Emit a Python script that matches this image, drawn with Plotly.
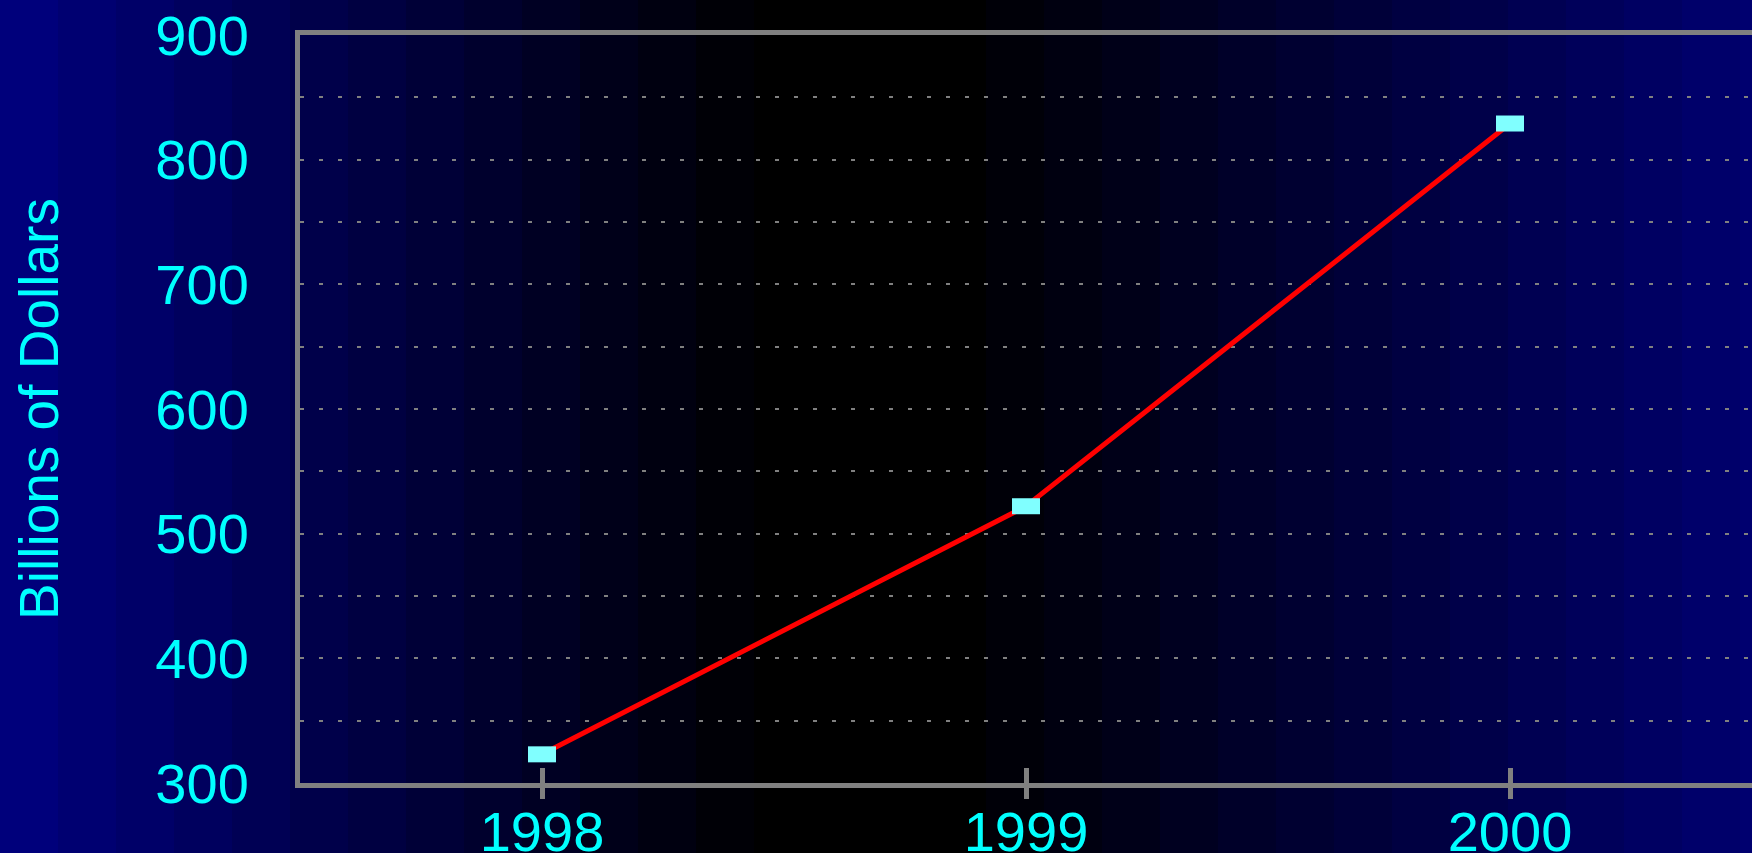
import plotly.graph_objects as go

# ---- data ----
years = [1998, 1999, 2000]
year_labels = ["1998", "1999", "2000"]
values = [323, 522, 829]
y_ticks = [300, 400, 500, 600, 700, 800, 900]

W, H = 1752, 853
L, R, T, B = 300, 0, 35, 70
plot_w = W - L - R

CYAN = "#00FFFF"
GRAY = "#808080"
FONT = "Liberation Sans, Arial, sans-serif"

# banded horizontal background gradient (navy -> black -> navy)
shapes = []
band = 58
x0 = 0
while x0 < W:
    x1 = min(x0 + band, W)
    xc = (x0 + x1) / 2
    if xc < 760:
        b = 128 * (760 - xc) / 760
    elif xc > 960:
        b = 112 * (xc - 960) / (W - 960)
    else:
        b = 0
    shapes.append(dict(
        type="rect", xref="paper", yref="paper", layer="below",
        x0=(x0 - L) / plot_w, x1=(x1 - L + 1) / plot_w, y0=-1, y1=2,
        fillcolor=f"rgb(0,0,{int(round(b))})", line=dict(width=0),
    ))
    x0 = x1

fig = go.Figure()
fig.add_trace(go.Scatter(
    x=years, y=values, mode="lines+markers",
    line=dict(color="#FF0000", width=5),
    marker=dict(symbol="line-ew", size=20, color="#80FFFF",
                line=dict(color="#80FFFF", width=16)),
    hoverinfo="skip", showlegend=False,
))
# invisible trace to carry the overlay axis (outside half of the crossing ticks)
fig.add_trace(go.Scatter(
    x=years, y=values, xaxis="x2", mode="lines",
    line=dict(width=0), opacity=0, hoverinfo="skip", showlegend=False,
))

fig.update_layout(
    width=W, height=H,
    margin=dict(l=L, r=R, t=T, b=B, autoexpand=False),
    paper_bgcolor="#000000",
    plot_bgcolor="rgba(0,0,0,0)",
    shapes=shapes,
    font=dict(family=FONT, color=CYAN, size=56),
    xaxis=dict(
        range=[1997.5, 2000.5], tickvals=years, ticktext=year_labels,
        showgrid=False, zeroline=False, automargin=False,
        showline=True, linecolor=GRAY, linewidth=5, mirror=True,
        ticks="inside", ticklen=15, tickwidth=5, tickcolor=GRAY,
        tickfont=dict(family=FONT, size=56, color=CYAN),
        ticklabelstandoff=-4,
    ),
    xaxis2=dict(
        overlaying="x", matches="x", side="bottom", automargin=False,
        tickvals=years, showticklabels=False, showgrid=False, zeroline=False,
        ticks="outside", ticklen=15, tickwidth=5, tickcolor=GRAY, showline=False,
    ),
    yaxis=dict(
        range=[300, 900], tickvals=y_ticks, ticks="", automargin=False,
        showline=True, linecolor=GRAY, linewidth=5, mirror=True,
        showgrid=True, gridcolor=GRAY, gridwidth=2, griddash="4px,15px",
        minor=dict(dtick=50, showgrid=True, gridcolor=GRAY, gridwidth=2,
                   griddash="4px,15px"),
        zeroline=False,
        tickfont=dict(family=FONT, size=56, color=CYAN),
        ticklabelstandoff=35,
        title=dict(text="Billions of Dollars", standoff=81,
                   font=dict(family=FONT, size=55, color=CYAN)),
    ),
)

fig.write_html(
    "out.html",
    config={"displayModeBar": False},
    post_script="document.body.style.margin='0';document.body.style.overflow='hidden';",
)
